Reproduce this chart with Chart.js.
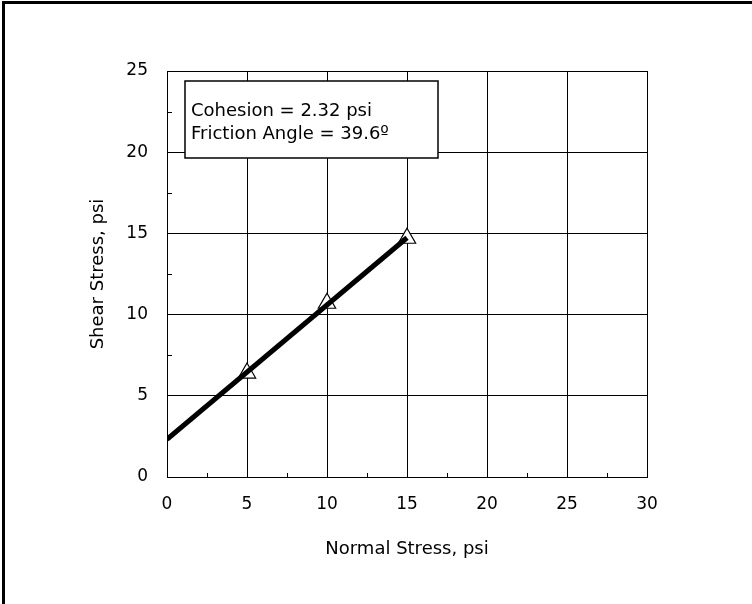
<!DOCTYPE html>
<html>
<head>
<meta charset="utf-8">
<script src="https://cdn.jsdelivr.net/npm/chart.js@4.4.0/dist/chart.umd.min.js"></script>
<style>
    html, body { margin: 0; padding: 0; background: #fff; }
    #wrap { position: relative; width: 752px; height: 604px; }
</style>
</head>
<body>
<div id="wrap"><canvas id="shear-chart" width="752" height="604"></canvas></div>
<script>
// test points (normal stress, shear stress), psi
const normalStress = [5, 10, 15];
const shearStress = [6.4, 10.7, 14.7];

// failure envelope
const cohesion = 2.32;
const frictionAngle = 39.6;
const envelopeX = [0, 15];
const envelopeY = [2.32, 14.73];

const xTicks = [0, 5, 10, 15, 20, 25, 30];
const yTicks = [0, 5, 10, 15, 20, 25];

const fontFamily = '"DejaVu Sans", Verdana, sans-serif';

document.addEventListener('DOMContentLoaded', function () {
    const ctx = document.getElementById('shear-chart');

    // page frame, minor ticks and the result box
    const Decorations = {
        id: 'decorations',
        beforeDraw(chart) {
            const c = chart.ctx;
            c.save();
            c.fillStyle = '#fff';
            c.fillRect(0, 0, chart.width, chart.height);
            c.fillStyle = '#000';
            c.fillRect(2, 1, 3, chart.height);
            c.fillRect(2, 1, chart.width, 3);
            c.restore();
        },
        afterDatasetsDraw(chart) {
            const c = chart.ctx;
            const x = chart.scales.x;
            const y = chart.scales.y;
            const area = chart.chartArea;
            c.save();
            c.strokeStyle = '#000';
            c.lineWidth = 1;
            c.beginPath();
            for (let v = 2.5; v < 30; v += 5) {
                const px = Math.round(x.getPixelForValue(v)) + 0.5;
                c.moveTo(px, area.bottom);
                c.lineTo(px, area.bottom - 4);
            }
            for (let v = 2.5; v < 25; v += 5) {
                const py = Math.round(y.getPixelForValue(v)) + 0.5;
                c.moveTo(area.left, py);
                c.lineTo(area.left + 5, py);
            }
            c.stroke();

            // result box
            const bx = area.left + 18, by = area.top + 10, bw = 253, bh = 77;
            c.fillStyle = '#fff';
            c.fillRect(bx, by, bw, bh);
            c.lineWidth = 1.5;
            c.strokeRect(bx, by, bw, bh);
            c.fillStyle = '#000';
            c.font = '18px ' + fontFamily;
            c.textBaseline = 'alphabetic';
            c.textAlign = 'left';
            c.fillText('Cohesion = ' + cohesion.toFixed(2) + ' psi', bx + 6, by + 35);
            c.fillText('Friction Angle = ' + frictionAngle.toFixed(1) + '\u00BA', bx + 6, by + 58);
            c.restore();
        }
    };

    new Chart(ctx, {
        type: 'scatter',
        data: {
            datasets: [
                {
                    label: 'Failure envelope',
                    type: 'line',
                    data: envelopeX.map((v, i) => ({ x: v, y: envelopeY[i] })),
                    borderColor: '#000',
                    borderWidth: 5,
                    pointRadius: 0,
                    fill: false,
                    order: 0
                },
                {
                    label: 'Tests',
                    data: normalStress.map((v, i) => ({ x: v, y: shearStress[i] })),
                    pointStyle: 'triangle',
                    pointRadius: 10,
                    pointBackgroundColor: '#fff',
                    pointBorderColor: '#000',
                    pointBorderWidth: 1.2,
                    order: 1
                }
            ]
        },
        options: {
            responsive: false,
            animation: false,
            layout: {
                padding: { left: 88, right: 105, top: 71, bottom: 27 }
            },
            plugins: {
                legend: { display: false },
                tooltip: { enabled: false }
            },
            scales: {
                x: {
                    type: 'linear',
                    min: 0,
                    max: 30,
                    afterBuildTicks: function (scale) {
                        scale.ticks = xTicks.map(v => ({ value: v }));
                    },
                    afterFit: function (scale) {
                        scale.height = 100;
                    },
                    grid: { color: '#000', lineWidth: 1, drawTicks: false },
                    border: { color: '#000', width: 1 },
                    ticks: {
                        color: '#000',
                        padding: 17,
                        maxRotation: 0,
                        font: { family: fontFamily, size: 17 }
                    },
                    title: {
                        display: true,
                        text: 'Normal Stress, psi',
                        color: '#000',
                        font: { family: fontFamily, size: 18 },
                        padding: { top: 0, bottom: 17 }
                    }
                },
                y: {
                    type: 'linear',
                    min: 0,
                    max: 25,
                    afterBuildTicks: function (scale) {
                        scale.ticks = yTicks.map(v => ({ value: v }));
                    },
                    afterFit: function (scale) {
                        scale.width = 79;
                    },
                    grid: { color: '#000', lineWidth: 1, drawTicks: false },
                    border: { color: '#000', width: 1 },
                    ticks: {
                        color: '#000',
                        padding: 19,
                        font: { family: fontFamily, size: 17 }
                    },
                    title: {
                        display: true,
                        text: 'Shear Stress, psi',
                        color: '#000',
                        font: { family: fontFamily, size: 18 },
                        padding: { top: 0, bottom: 0 }
                    }
                }
            }
        },
        plugins: [Decorations]
    });
});
</script>
</body>
</html>
